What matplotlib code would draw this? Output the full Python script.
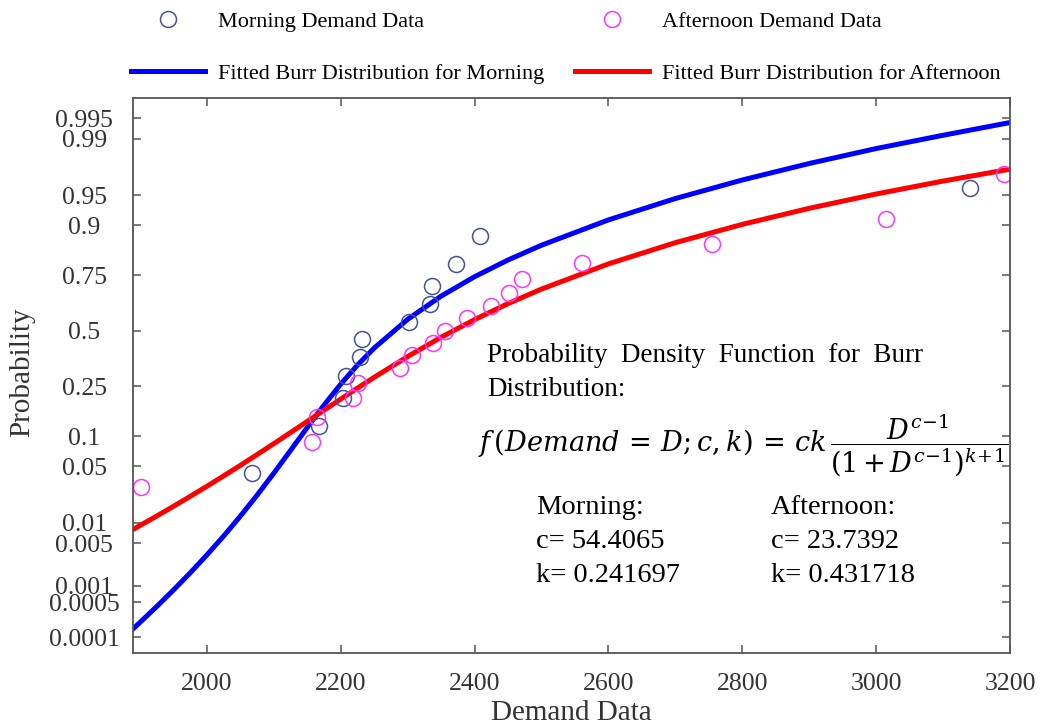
from statistics import NormalDist
import numpy as np
import matplotlib
matplotlib.use('Agg')
import matplotlib.pyplot as plt

# observed demand (x) and plotting position (probability)
morning_x = [2068, 2168, 2203, 2207, 2229, 2232, 2302, 2333, 2337, 2372, 2408, 3140]
morning_p = [0.042, 0.125, 0.208, 0.292, 0.375, 0.458, 0.542, 0.625, 0.708, 0.792, 0.875, 0.958]
afternoon_x = [1901, 2157, 2165, 2218, 2226, 2288, 2307, 2338, 2355, 2388, 2425, 2451,
               2471, 2561, 2755, 3014, 3191]
afternoon_p = [0.029, 0.088, 0.147, 0.206, 0.265, 0.324, 0.382, 0.441, 0.5, 0.559,
               0.618, 0.676, 0.735, 0.794, 0.853, 0.912, 0.971]

# fitted burr curves
fit_x = [1889, 1900, 1925, 1950, 1975, 2000, 2025, 2050, 2075, 2100, 2125, 2150, 2175,
         2200, 2225, 2250, 2300, 2350, 2400, 2450, 2500, 2600, 2700, 2800, 2900, 3000,
         3100, 3200]
fit_morning_p = [0.0001485, 0.0002036, 0.0004145, 0.0008355, 0.001667, 0.003292, 0.006418,
                 0.01232, 0.02316, 0.0422, 0.07356, 0.1207, 0.1839, 0.2589, 0.3388, 0.4172,
                 0.5552, 0.6628, 0.7439, 0.8046, 0.8501, 0.9105, 0.9455, 0.9662, 0.9787,
                 0.9864, 0.9911, 0.9942]
fit_afternoon_p = [0.007944, 0.0091, 0.01234, 0.01665, 0.02231, 0.02969, 0.03923, 0.05138,
                   0.06667, 0.08559, 0.1086, 0.1359, 0.1677, 0.2037, 0.2435, 0.2863, 0.3773,
                   0.4686, 0.5538, 0.629, 0.6933, 0.7912, 0.8572, 0.9014, 0.9311, 0.9513,
                   0.9652, 0.9749]

yticks = [0.0001, 0.0005, 0.001, 0.005, 0.01, 0.05, 0.1, 0.25, 0.5, 0.75, 0.9, 0.95, 0.99, 0.995]
ytick_labels = ['0.0001', '0.0005', '0.001', '0.005', '0.01', '0.05', '0.1', '0.25',
                '0.5', '0.75', '0.9', '0.95', '0.99', '0.995']
xticks = [2000, 2200, 2400, 2600, 2800, 3000, 3200]

# normal probability scale for y
_nd = NormalDist()
_ppf = np.vectorize(_nd.inv_cdf, otypes=[float])
_cdf = np.vectorize(_nd.cdf, otypes=[float])

def probit(p):
    p = np.clip(np.asarray(p, dtype=float), 1e-12, 1 - 1e-12)
    return _ppf(p)

def probit_inv(z):
    return _cdf(np.asarray(z, dtype=float))

plt.rcParams['font.family'] = ['Liberation Serif', 'DejaVu Serif']
plt.rcParams['mathtext.fontset'] = 'dejavuserif'

W, H = 1041, 725
fig = plt.figure(figsize=(W / 100, H / 100), dpi=100)
ax = fig.add_axes([132.7 / W, 1 - 653.3 / H, 877.3 / W, 555.3 / H])

l1, = ax.plot(fit_x, fit_morning_p, color='#0000ff', lw=3.6,
              label='Fitted Burr Distribution for Morning')
l2, = ax.plot(fit_x, fit_afternoon_p, color='#ff0000', lw=3.6,
              label='Fitted Burr Distribution for Afternoon')
s1, = ax.plot(morning_x, morning_p, 'o', ms=11.5, mfc='none', mec='#44529c', mew=1.1,
              label='Morning Demand Data')
s2, = ax.plot(afternoon_x, afternoon_p, 'o', ms=11.5, mfc='none', mec='#ff33ff', mew=1.1,
              label='Afternoon Demand Data')

ax.set_yscale('function', functions=(probit, probit_inv))
ax.set_xlim(1889, 3200)
ax.set_ylim(4.6e-5, 0.99761)
ax.set_yticks(yticks)
ax.set_yticklabels(ytick_labels)
ax.set_xticks(xticks)
ax.minorticks_off()

ax.tick_params(direction='in', length=6, width=1.1, color='#555555', labelcolor='#333333',
               labelsize=18.5, top=True, right=True)
ax.tick_params(axis='y', pad=35)
ax.tick_params(axis='x', pad=14)
for lab in ax.get_yticklabels():
    lab.set_ha('center')
for sp in ax.spines.values():
    sp.set_color('#555555')
    sp.set_linewidth(1.3)

ax.set_xlabel('Demand Data', fontsize=21, color='#333333', va='center')
ax.xaxis.set_label_coords(0.5, -0.107)
ax.set_ylabel('Probability', fontsize=21, color='#333333', va='center')
ax.yaxis.set_label_coords(-0.1254, 0.507)

fig.legend(handles=[s1, l1, s2, l2], loc='upper left', bbox_to_anchor=(131 / W, 1 - 11 / H),
           ncol=2, frameon=False, fontsize=16, borderpad=0, borderaxespad=0,
           handlelength=3.33, handletextpad=0.6, columnspacing=1.35, labelspacing=1.43)

def ftext(x, y, s, **kw):
    fig.text(x / W, 1 - y / H, s, ha='left', va='center', **kw)

ftext(487, 355, 'Probability  Density  Function  for  Burr', fontsize=19.5)
ftext(487, 389, 'Distribution:', fontsize=19.5)
ftext(478, 446,
      r'$f\,(Demand\,=\,D;c,k)\,=\,ck\,\dfrac{D^{c\!-\!1}}{(1\,{+}\,D^{c\!-\!1})^{k\!+\!1}}$',
      fontsize=19.5)
ftext(536, 508, 'Morning:', fontsize=20.5)
ftext(536, 542, 'c= 54.4065', fontsize=20.5)
ftext(536, 576, 'k= 0.241697', fontsize=20.5)
ftext(771, 508, 'Afternoon:', fontsize=20.5)
ftext(771, 542, 'c= 23.7392', fontsize=20.5)
ftext(771, 576, 'k= 0.431718', fontsize=20.5)

fig.savefig('out.png', dpi=100)
